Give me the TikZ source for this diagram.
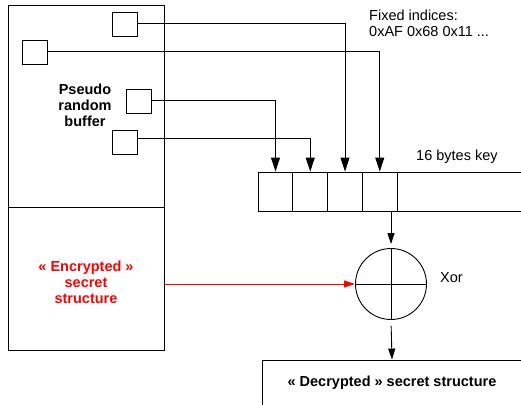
\documentclass[tikz,border=0pt]{standalone}
\usepackage{fontspec}
\setmainfont{Liberation Sans}
\usetikzlibrary{arrows.meta,calc}
\tikzset{
  box/.style={draw, line width=0.9pt, rectangle, inner sep=0pt},
  cell/.style={box, minimum width=34.75pt, minimum height=39pt},
  byte/.style={box, fill=white, minimum width=25pt, minimum height=24pt},
  lbl/.style={font=\fontsize{14.5}{16}\selectfont, align=center, inner sep=0pt},
  boldlbl/.style={lbl, font=\fontsize{14.5}{16}\selectfont\bfseries},
  conn/.style={line width=0.9pt},
  bigtip/.style={-{Triangle[length=14pt,width=9pt]}},
  smalltip/.style={-{Triangle[length=11pt,width=7pt]}}
}
\begin{document}
\begin{tikzpicture}[x=1pt,y=-1pt]
\clip (0,0) rectangle (521,404);
\fill[white] (0,0) rectangle (521,404);

% memory blocks on the left
\node[box, minimum width=156pt, minimum height=202pt] (buffer) at (86,106) {};
\node[box, minimum width=156pt, minimum height=143pt] (enc) at (86,278.5) {};
\node[boldlbl] (buftext) at (85,105) {Pseudo\\random\\buffer};
\node[boldlbl, text=red] (enctext) at (86,282.5) {« Encrypted »\\secret\\structure};

% bytes picked from the buffer
\node[byte] (sq1) at (124.5,24) {};
\node[byte] (sq2) at (34.5,52) {};
\node[byte] (sq3) at (138.5,101) {};
\node[byte] (sq4) at (124.5,142.5) {};

% the key
\node[cell] (k1) at (275.5,191.5) {};
\node[cell] (k2) at (310.25,191.5) {};
\node[cell] (k3) at (345,191.5) {};
\node[cell] (k4) at (379.75,191.5) {};
\node[box, minimum width=150pt, minimum height=39pt, anchor=west] (ktail) at (397,191.5) {};

\node[lbl, anchor=west] (keytext) at (416,157) {16 bytes key};
\node[lbl, anchor=west, align=left] (idxtext) at (369,23.5) {Fixed indices:\\0xAF 0x68 0x11 ...};

% xor operator
\node[draw, circle, line width=0.9pt, minimum size=71pt, inner sep=0pt,
      path picture={\draw[line width=0.9pt]
        (path picture bounding box.north) -- (path picture bounding box.south)
        (path picture bounding box.west) -- (path picture bounding box.east);}]
      (xor) at (391,284) {};
\node[lbl, anchor=west] (xortext) at (440,278) {Xor};

% result
\node[box, minimum width=260pt, minimum height=46pt] (dec) at (392,383)
  {\fontsize{14.5}{16}\selectfont\bfseries « Decrypted » secret structure};

% byte selection connectors
\draw[conn, bigtip] ([yshift=1pt]sq1.east) -| (k3.north);
\draw[conn, bigtip] ([yshift=1pt]sq2.east) -| (k4.north);
\draw[conn, bigtip] ([yshift=1pt]sq3.east) -| (k1.north);
\draw[conn, bigtip] ([yshift=4.5pt]sq4.east) -| (k2.north);

% key into xor, xor into result
\draw[conn, smalltip, shorten >=4pt] (k4.south -| xor.north) -- (xor.north);
\draw[conn, smalltip, shorten <=6pt] (xor.south) -- (dec.north);
\draw[conn, red, smalltip] (enc.east |- xor.west) -- (xor.west);
\end{tikzpicture}
\end{document}
